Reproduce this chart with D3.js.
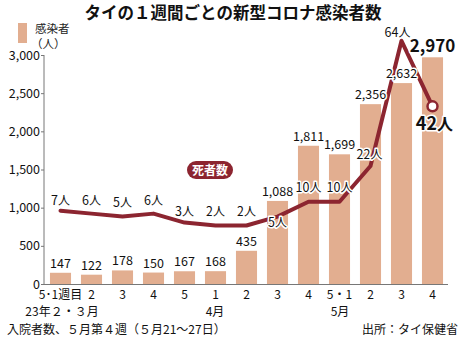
<!DOCTYPE html>
<html><head><meta charset="utf-8">
<script src="https://cdn.jsdelivr.net/npm/d3@7"></script>
<style>
body{margin:0;background:#fff;}
svg{display:block;font-family:"Noto Sans CJK JP","Noto Sans",sans-serif;}
</style></head><body>
<svg id="c" width="465" height="340"></svg>
<script>
const weeks = ["5･1週目","2","3","4","5","1","2","3","4","5・1","2","3","4"];
const infected = [147,122,178,150,167,168,435,1088,1811,1699,2356,2632,2970];
const deaths = [7,6,5,6,3,2,2,5,10,10,22,64,42];
const yTicks = [0,500,1000,1500,2000,2500,3000];
const months = ["23年２・３月","4月","5月"];

const barColor = "#e2ae90", lineColor = "#8c2530";
const svg = d3.select("#c");
const x = d3.scaleBand().domain(d3.range(weeks.length)).range([45,448]).paddingInner(0.32).paddingOuter(0.16);
const y = d3.scaleLinear().domain([0,3000]).range([284,55]);
const yd = d3.scaleLinear().domain([0,64]).range([231.5,40.8]);
const cx = i => x(i) + x.bandwidth()/2;

// title
svg.append("text").attr("x",233).attr("y",19).attr("text-anchor","middle")
  .attr("font-size",16.5).attr("font-weight","bold").attr("fill","#111")
  .text("タイの１週間ごとの新型コロナ感染者数");

// legend
svg.append("rect").attr("x",18).attr("y",23).attr("width",9).attr("height",20).attr("fill",barColor);
svg.append("text").attr("x",35).attr("y",33).attr("font-size",11.5).attr("fill","#222").text("感染者");
svg.append("text").attr("x",31).attr("y",47.5).attr("font-size",11.5).attr("fill","#222").text("（人）");

// y axis
const numFont = "'Liberation Sans Narrow','Noto Sans CJK JP',sans-serif";
const ya = svg.append("g").attr("transform","translate(44,0)")
  .call(d3.axisLeft(y).tickValues(yTicks).tickSize(3).tickFormat(d3.format(",")));
ya.select(".domain").attr("stroke","#777").attr("d","M0,55V284");
ya.selectAll(".tick line").attr("stroke","#777");
ya.selectAll(".tick text").attr("fill","#111").attr("x",-4)
  .attr("font-family",numFont).attr("font-size",12.5);

// bars
svg.append("g").selectAll("rect").data(infected).join("rect")
  .attr("x",(d,i)=>x(i)).attr("width",x.bandwidth())
  .attr("y",d=>y(d)).attr("height",d=>284-y(d)).attr("fill",barColor);

// x axis baseline
svg.append("line").attr("x1",44).attr("x2",448).attr("y1",284.5).attr("y2",284.5).attr("stroke","#777");

// x labels
svg.append("g").selectAll("text").data(weeks).join("text")
  .attr("x",(d,i)=>cx(i)).attr("y",299).attr("text-anchor","middle")
  .attr("font-size",12).attr("fill","#111").text(d=>d);
const monthX = [62, 215, 340];
svg.append("g").selectAll("text").data(months).join("text")
  .attr("x",(d,i)=>monthX[i]).attr("y",316).attr("text-anchor","middle")
  .attr("font-size",12).attr("fill","#111").text(d=>d);

// footnotes
svg.append("text").attr("x",7).attr("y",334).attr("font-size",12).attr("fill","#111")
  .text("入院者数、５月第４週（５月21～27日）");
svg.append("text").attr("x",458).attr("y",334).attr("text-anchor","end").attr("font-size",12).attr("fill","#111")
  .text("出所：タイ保健省");

// deaths line
const line = d3.line().x((d,i)=>cx(i)).y(d=>yd(d)).curve(d3.curveLinear);
svg.append("path").datum(deaths).attr("d",line).attr("fill","none")
  .attr("stroke",lineColor).attr("stroke-width",4).attr("stroke-linejoin","round").attr("stroke-linecap","round");
const last = deaths.length-1;
svg.append("circle").attr("cx",cx(last)).attr("cy",yd(deaths[last])).attr("r",5)
  .attr("fill","#fff").attr("stroke",lineColor).attr("stroke-width",2.5);

// labels with halo
const halo = s => s.attr("stroke","#fff").attr("stroke-width",3).attr("paint-order","stroke").attr("stroke-linejoin","round");
svg.append("g").selectAll("text").data(infected).join("text")
  .attr("x",(d,i)=>cx(i)).attr("y",d=> y(d) - 5)
  .attr("text-anchor","middle")
  .attr("font-family",numFont)
  .attr("font-size",(d,i)=> i===last?17:12.5).attr("font-weight",(d,i)=> i===last?"bold":"normal")
  .attr("fill","#111").text(d=>d3.format(",")(d)).call(halo);

// death label placement: dx, dy relative to point
const dLayout = [[0,-6],[0,-9],[0,-10],[0,-9],[0,-7],[0,-10],[0,-10],[0,10],[0,-10],[0,-10],[-1,-7],[-4,-4],[2,24]];
svg.append("g").selectAll("text").data(deaths).join("text")
  .attr("x",(d,i)=>cx(i)+dLayout[i][0]).attr("y",(d,i)=>yd(d)+dLayout[i][1])
  .attr("text-anchor","middle")
  .attr("font-size",(d,i)=> i===last?16:12).attr("font-weight",(d,i)=> i===last?"bold":"normal")
  .attr("fill","#111").each(function(d,i){
    const t = d3.select(this);
    t.append("tspan").attr("font-family",numFont).attr("font-size",i===last?18:12.5).text(d);
    t.append("tspan").text("人");
  }).call(halo);

// badge
const bg = svg.append("g").attr("transform","translate(210,170)");
bg.append("rect").attr("x",-23).attr("y",-9).attr("width",46).attr("height",18).attr("rx",9).attr("fill",lineColor);
bg.append("text").attr("y",4.5).attr("text-anchor","middle").attr("font-size",12).attr("font-weight","bold")
  .attr("fill","#fff").text("死者数");
</script>
</body></html>
